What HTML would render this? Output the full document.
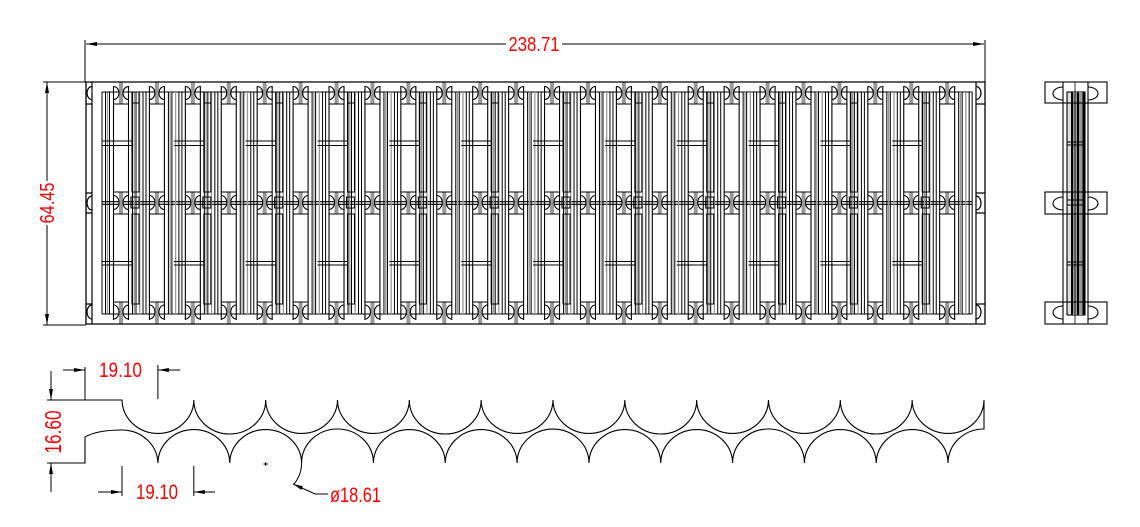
<!DOCTYPE html>
<html>
<head>
<meta charset="utf-8">
<style>
html,body{margin:0;padding:0;background:#fff;}
svg{display:block;}
text{font-family:"Liberation Sans",sans-serif;fill:#f00;}
</style>
</head>
<body>
<svg width="1140" height="527" viewBox="0 0 1140 527" xmlns="http://www.w3.org/2000/svg">
<defs>
  <g id="c" fill="none" stroke="#000" stroke-width="1.1">
    <rect x="-2" y="82" width="4" height="22" fill="#999" stroke="none"/>
    <rect x="-2" y="192" width="4" height="22" fill="#999" stroke="none"/>
    <rect x="-2" y="302" width="4" height="22" fill="#999" stroke="none"/>
    <path d="M-7.5,86V320M7.5,86V320M-7.5,104H7.5M-7.5,192H7.5M-7.5,214H7.5M-7.5,302H7.5"/>
    <path d="M-7.5,86.5A5.5,6.5 0 0 1 -7.5,99.5M7.5,86.5A5.5,6.5 0 0 0 7.5,99.5M-7.5,195.5A5.5,7 0 0 1 -7.5,209.5M7.5,195.5A5.5,7 0 0 0 7.5,209.5M-7.5,305A5.5,7 0 0 1 -7.5,319M7.5,305A5.5,7 0 0 0 7.5,319"/>
    <path d="M11.5,92V314M15,92V314M22,92V314M25,92V314" stroke-width="1"/>
    <path d="M13.3,92V314M18.7,92V314" stroke="#999" stroke-width="1.3"/>
  </g>
  <g id="e" fill="none" stroke="#000" stroke-width="1.1">
    <path d="M11,92V192H18V92ZM11,103H18M11,214V304H18V214Z"/>
    <path d="M-19,141H11M-19,145.5H11M-19,261.5H11M-19,265H11"/>
    <path d="M10,197H18V208H10Z"/>
  </g>
</defs>

<!-- ===== Main view ===== -->
<g fill="none" stroke="#000" stroke-width="1.1">
  <path d="M102,92V314M105.5,92V314M109.5,92V314" stroke-width="1"/>
  <path d="M107.5,92V314" stroke="#999" stroke-width="1.3"/>
  <path d="M102,92H972M102,314H972M102,201.7H972M102,204.3H972"/>
</g>

<use href="#c" x="121"/><use href="#e" x="121"/>
<use href="#c" x="156.92"/>
<use href="#c" x="192.84"/><use href="#e" x="192.84"/>
<use href="#c" x="228.76"/>
<use href="#c" x="264.68"/><use href="#e" x="264.68"/>
<use href="#c" x="300.6"/>
<use href="#c" x="336.52"/><use href="#e" x="336.52"/>
<use href="#c" x="372.44"/>
<use href="#c" x="408.36"/><use href="#e" x="408.36"/>
<use href="#c" x="444.28"/>
<use href="#c" x="480.2"/><use href="#e" x="480.2"/>
<use href="#c" x="516.12"/>
<use href="#c" x="552.04"/><use href="#e" x="552.04"/>
<use href="#c" x="587.96"/>
<use href="#c" x="623.88"/><use href="#e" x="623.88"/>
<use href="#c" x="659.8"/>
<use href="#c" x="695.72"/><use href="#e" x="695.72"/>
<use href="#c" x="731.64"/>
<use href="#c" x="767.56"/><use href="#e" x="767.56"/>
<use href="#c" x="803.48"/>
<use href="#c" x="839.4"/><use href="#e" x="839.4"/>
<use href="#c" x="875.32"/>
<use href="#c" x="911.24"/><use href="#e" x="911.24"/>
<use href="#c" x="947.16"/>

<g fill="none" stroke="#000" stroke-width="1.2">
  <path d="M86,82H985V324H86Z" stroke-width="1.3"/>
  <path d="M92,82V324M86,104H92M86,193H92M86,213H92M86,304H92"/>
  <path d="M92,86.5A5,6.5 0 0 0 92,99.5M92,196A5,7 0 0 0 92,210M92,305A5,7 0 0 0 92,319"/>
  <path d="M976,82V324M976,104H985M976,193H985M976,213H985M976,304H985"/>
  <path d="M976,86.5A5,6.5 0 0 1 976,99.5M976,196A5,7 0 0 1 976,210M976,305A5,7 0 0 1 976,319"/>
</g>

<!-- dimensions main view -->
<g stroke="#000" stroke-width="1" fill="none">
  <path d="M85,40V82M985,40V82M86,44H506M562,44H984"/>
  <path d="M43,82H86M43,325H86M47,82V181M47,225V325"/>
</g>
<g fill="#000" stroke="none">
  <polygon points="86,44 97,42 97,46"/>
  <polygon points="984,44 973,42 973,46"/>
  <polygon points="47,82 45,93 49,93"/>
  <polygon points="47,325 45,314 49,314"/>
</g>
<text x="534" y="51" font-size="20" text-anchor="middle" textLength="51" lengthAdjust="spacingAndGlyphs">238.71</text>
<text transform="translate(47,203) rotate(-90)" x="0" y="7" font-size="20" text-anchor="middle" textLength="41" lengthAdjust="spacingAndGlyphs">64.45</text>

<!-- ===== Side view ===== -->
<g fill="none" stroke="#000" stroke-width="1.1">
  <rect x="1067" y="92" width="18" height="223" fill="#ddd"/>
  <rect x="1073" y="92" width="11" height="223" fill="#999" stroke="none"/>
  <path d="M1072,92V315M1078,92V315M1083.5,92V315" stroke-width="2"/>
  <path d="M1067,142H1085M1067,145H1085M1067,200H1085M1067,205H1085M1067,262H1085M1067,265H1085"/>
  <rect x="1045" y="82" width="62" height="21"/>
  <rect x="1045" y="192" width="62" height="22"/>
  <rect x="1045" y="302" width="62" height="22"/>
  <path d="M1063,82V324M1088,82V324"/>
  <path d="M1075,82V324" stroke-width="0.8"/>
  <path d="M1063,87A10,6.5 0 0 0 1063,100M1088,87A10,6.5 0 0 1 1088,100"/>
  <path d="M1063,197A10,6.5 0 0 0 1063,210M1088,197A10,6.5 0 0 1 1088,210"/>
  <path d="M1063,306A10,6.5 0 0 0 1063,319M1088,306A10,6.5 0 0 1 1088,319"/>
</g>

<!-- ===== Bottom profile ===== -->
<g fill="none" stroke="#000" stroke-width="1.1">
  <path d="M47,400H122A35.92,34 0 0 0 193.83,400A35.92,34 0 0 0 265.67,400A35.92,34 0 0 0 337.5,400A35.92,34 0 0 0 409.33,400A35.92,34 0 0 0 481.17,400A35.92,34 0 0 0 553,400A35.92,34 0 0 0 624.83,400A35.92,34 0 0 0 696.67,400A35.92,34 0 0 0 768.5,400A35.92,34 0 0 0 840.33,400A35.92,34 0 0 0 912.17,400A35.92,34 0 0 0 984,400V429A35.92,34 0 0 0 948.08,463A35.92,34 0 0 0 876.25,463A35.92,34 0 0 0 804.42,463A35.92,34 0 0 0 732.58,463A35.92,34 0 0 0 660.75,463A35.92,34 0 0 0 588.92,463A35.92,34 0 0 0 517.08,463A35.92,34 0 0 0 445.25,463A35.92,34 0 0 0 373.42,463A35.92,34 0 0 0 301.58,463A35.92,34 0 0 0 229.75,463A35.92,34 0 0 0 157.92,463A35.92,34 0 0 0 122,430Q97,430 85,437V463H47"/>
  <path d="M301.58,463A35.92,34 0 0 1 294,484" stroke-width="1"/>
  <path d="M263.5,464H268M265.7,462V466" stroke-width="0.9"/>
  <path d="M51,371V400M51,463V492" stroke-width="1"/>
  <path d="M85,367V400M157.9,365V399M63,370H85M157.9,370H180" stroke-width="1"/>
  <path d="M122,466V496M193.8,466V496M98,492H122M193.8,492H215" stroke-width="1"/>
  <path d="M293,484L315,494H328" stroke-width="1"/>
</g>
<g fill="#000" stroke="none">
  <polygon points="51,400 49,389 53,389"/>
  <polygon points="51,463 49,474 53,474"/>
  <polygon points="85,370 74,368 74,372"/>
  <polygon points="157.9,370 168.9,368 168.9,372"/>
  <polygon points="122,492 111,490 111,494"/>
  <polygon points="193.8,492 204.8,490 204.8,494"/>
  <polygon points="293,484 302.9,486.3 301.3,489.9"/>
</g>
<text x="99" y="377" font-size="21" textLength="43" lengthAdjust="spacingAndGlyphs">19.10</text>
<text x="136" y="499" font-size="21" textLength="42" lengthAdjust="spacingAndGlyphs">19.10</text>
<text x="330" y="502" font-size="21" textLength="51" lengthAdjust="spacingAndGlyphs">ø18.61</text>
<text transform="translate(53,432) rotate(-90)" x="0" y="8" font-size="23" text-anchor="middle" textLength="43" lengthAdjust="spacingAndGlyphs">16.60</text>
</svg>
</body>
</html>
